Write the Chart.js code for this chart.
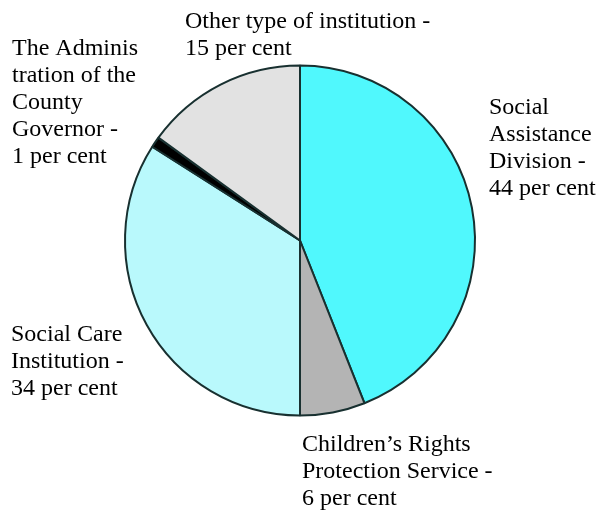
<!DOCTYPE html>
<html>
<head>
<meta charset="utf-8">
<script src="https://cdn.jsdelivr.net/npm/chart.js@4"></script>
<style>
  html, body { margin: 0; padding: 0; background: #fff; }
  #myChart { display: block; }
</style>
</head>
<body>
<canvas id="myChart" width="598" height="513"></canvas>
<script>
// categories, one entry per line of the label text
const categories = [
    ["Social", "Assistance", "Division"],
    ["Children\u2019s Rights", "Protection Service"],
    ["Social Care", "Institution"],
    ["The Adminis", "tration of the", "County", "Governor"],
    ["Other type of institution"]
];
const shares = [44, 6, 34, 1, 15];
const sliceColors = ["#50F8FD", "#B4B4B4", "#B9F9FC", "#000000", "#E2E2E2"];

// where each label block starts (left x, first baseline y) and an optional clip box
const labelSpots = [
    { x: 489, y: 114 },
    { x: 302, y: 451 },
    { x: 11, y: 341 },
    { x: 12, y: 55, clip: [11, 0, 128, 200] },
    { x: 185, y: 28 }
];

const labelPlugin = {
    id: "sliceLabels",
    afterDraw(chart) {
        const c = chart.ctx;
        const vals = chart.data.datasets[0].data;
        c.save();
        c.font = "24px 'Liberation Serif', 'Times New Roman', serif";
        c.fillStyle = "#000";
        c.textBaseline = "alphabetic";
        chart.data.labels.forEach((lines, i) => {
            const spot = labelSpots[i];
            const text = lines.slice();
            text[text.length - 1] += " -";
            text.push(vals[i] + " per cent");
            c.save();
            if (spot.clip) {
                c.beginPath();
                c.rect(...spot.clip);
                c.clip();
            }
            text.forEach((t, k) => c.fillText(t, spot.x, spot.y + k * 27));
            c.restore();
        });
        c.restore();
    }
};

const ctx = document.getElementById("myChart").getContext("2d");

const myChart = new Chart(ctx, {
    type: "pie",
    data: {
        labels: categories,
        datasets: [{
            data: shares,
            backgroundColor: sliceColors,
            borderColor: "#183030",
            borderWidth: 2
        }]
    },
    options: {
        responsive: false,
        animation: false,
        layout: {
            padding: { left: 124, right: 122, top: 64, bottom: 96 }
        },
        plugins: {
            legend: { display: false },
            tooltip: { enabled: false }
        }
    },
    plugins: [labelPlugin]
});
</script>
</body>
</html>
